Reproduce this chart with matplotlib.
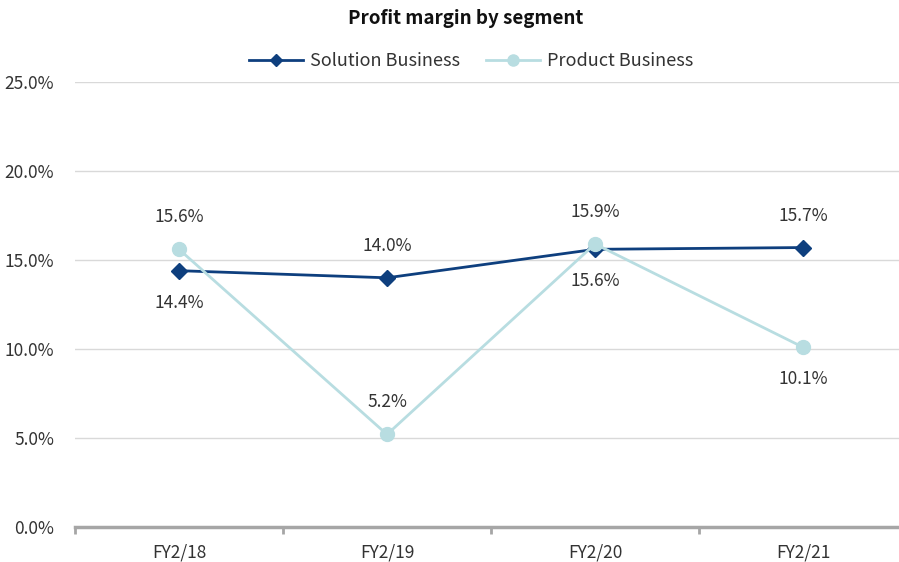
import matplotlib.pyplot as plt
import numpy as np
from matplotlib.ticker import PercentFormatter, FixedLocator

plt.rcParams['font.family'] = ['Noto Sans CJK JP', 'DejaVu Sans']

years = ['FY2/18', 'FY2/19', 'FY2/20', 'FY2/21']
solution = [14.4, 14.0, 15.6, 15.7]
product = [15.6, 5.2, 15.9, 10.1]
# label above (+1) or below (-1) the point
solution_pos = [-1, 1, -1, 1]
product_pos = [1, 1, 1, -1]

navy = '#0E3F7E'
light = '#B8DDE1'
txt = '#333333'

fig = plt.figure(figsize=(8.99, 5.62), dpi=100)
ax = fig.add_axes([75/899, 35/562, 832/899, 445/562])

x = np.arange(len(years))
ax.plot(x, solution, color=navy, lw=2, marker='D', ms=8, label='Solution Business', zorder=3)
ax.plot(x, product, color=light, lw=2, marker='o', ms=10, label='Product Business', zorder=4)

for xi, v, p in zip(x, solution, solution_pos):
    ax.annotate(f'{v:.1f}%', (xi, v), xytext=(0, 32 * p), textcoords='offset pixels',
                ha='center', va='center', fontsize=12.5, color=txt)
for xi, v, p in zip(x, product, product_pos):
    ax.annotate(f'{v:.1f}%', (xi, v), xytext=(0, 32 * p), textcoords='offset pixels',
                ha='center', va='center', fontsize=12.5, color=txt)

ax.set_xlim(-0.5, 3.5)
ax.set_ylim(0, 25)
ax.set_yticks([0, 5, 10, 15, 20, 25])
ax.yaxis.set_major_formatter(PercentFormatter(decimals=1))
ax.set_xticks(x)
ax.set_xticklabels(years)
ax.xaxis.set_minor_locator(FixedLocator(np.arange(-0.5, 4, 1)))
ax.tick_params(axis='x', which='major', length=0, pad=12, labelsize=12.5, labelcolor=txt)
ax.tick_params(axis='x', which='minor', length=5, width=2, color='#A6A6A6', direction='out')
ax.tick_params(axis='y', length=0, pad=15, labelsize=12.5, labelcolor=txt)

ax.grid(axis='y', color='#D9D9D9', lw=1)
ax.set_axisbelow(True)
for s in ['top', 'right', 'left']:
    ax.spines[s].set_visible(False)
ax.spines['bottom'].set_color('#A6A6A6')
ax.spines['bottom'].set_linewidth(2.5)

fig.text(466/899, 1 - 18/562, 'Profit margin by segment', ha='center', va='center',
         fontsize=13.5, fontweight='bold', color='#111111')
fig.legend(loc='center', bbox_to_anchor=(471/899, 1 - 61/562), ncol=2, frameon=False,
           fontsize=13, handlelength=3, columnspacing=1.4, handletextpad=0.4,
           labelcolor=txt, markerscale=0.8)

fig.savefig('out.png', dpi=100)
